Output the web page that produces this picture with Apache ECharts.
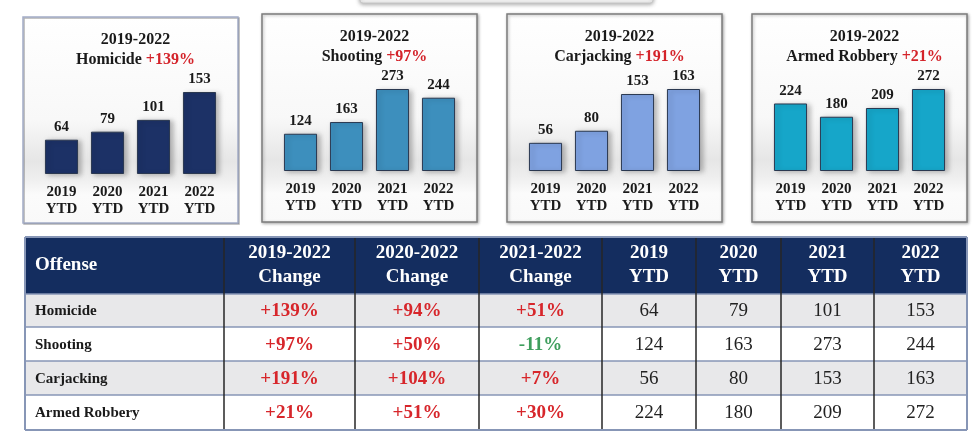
<!DOCTYPE html>
<html lang="en">
<head>
    <meta charset="UTF-8">
    <title>2019-2022 Offense YTD</title>
    <style type="text/css">
        * { margin: 0; padding: 0; }
        html, body { width: 100%; height: 100%; background: #fff; }
        #main { width: 980px; height: 444px; }
    </style>
</head>
<body>
<div id="main"></div>
<script src="https://cdn.jsdelivr.net/npm/echarts@6/dist/echarts.min.js"></script>
<script>
    var myChart = echarts.init(document.getElementById('main'));

    // data
    const years = ['2019', '2020', '2021', '2022'];
    const offenses = ['Homicide', 'Shooting', 'Carjacking', 'Armed Robbery'];
    const homicide = [64, 79, 101, 153];
    const shooting = [124, 163, 273, 244];
    const carjacking = [56, 80, 153, 163];
    const armedRobbery = [224, 180, 209, 272];
    const changeHeaders = ['2019-2022', '2020-2022', '2021-2022'];
    const change19to22 = [139, 97, 191, 21];
    const change20to22 = [94, 50, 104, 51];
    const change21to22 = [51, -11, 7, 30];

    const counts = [homicide, shooting, carjacking, armedRobbery];
    const changes = [change19to22, change20to22, change21to22];

    // layout
    const serif = '"Liberation Serif", "Times New Roman", serif';
    const panels = [
        {x: 23, y: 17, w: 215, h: 206, color: '#1c3166', border: '#a3acc6'},
        {x: 262, y: 14, w: 215, h: 208, color: '#3d8fbd', border: '#7c7c7c'},
        {x: 507, y: 14, w: 215, h: 208, color: '#7fa2e1', border: '#7c7c7c'},
        {x: 752, y: 14, w: 215, h: 208, color: '#16a6c9', border: '#7c7c7c'}
    ];
    const colWidths = [199, 131, 124, 123, 94, 85, 93, 93];
    const rowHeights = [57, 33, 34, 34, 35];
    const table = {left: 25, top: 237};

    function fmtChange(v) {
        return (v > 0 ? '+' : '') + v + '%';
    }
    function sum(arr, n) {
        let s = 0;
        for (let i = 0; i < n; i++) s += arr[i];
        return s;
    }

    var titles = [], grids = [], xAxes = [], yAxes = [], series = [], graphics = [];

    graphics.push({
        type: 'rect', z: 0,
        shape: {x: 360, y: -8, width: 293, height: 11, r: 3},
        style: {fill: '#f2f2f2', stroke: '#c8c8c8', shadowBlur: 4, shadowColor: 'rgba(0,0,0,0.35)', shadowOffsetY: 1}
    });

    var titleFont = {fontFamily: serif, fontSize: 16, fontWeight: 'bold', lineHeight: 20};

    panels.forEach(function (p, i) {
        var cx = p.x + p.w / 2;
        graphics.push({
            type: 'rect', z: 0,
            shape: {x: p.x, y: p.y, width: p.w, height: p.h},
            style: {
                fill: new echarts.graphic.LinearGradient(0, 0, 0, 1, [
                    {offset: 0, color: '#ffffff'},
                    {offset: 0.5, color: '#f8f8f8'},
                    {offset: 0.7, color: '#e6e6e6'},
                    {offset: 0.78, color: '#eeeeee'},
                    {offset: 0.86, color: '#fbfbfb'},
                    {offset: 1, color: '#f9f9f9'}
                ]),
                stroke: p.border,
                lineWidth: 1.5,
                shadowBlur: i === 0 ? 0 : 3,
                shadowColor: 'rgba(0,0,0,0.3)',
                shadowOffsetX: 1,
                shadowOffsetY: 1
            }
        });
        titles.push({
            text: '{n|2019-2022}\n{n|' + offenses[i] + '} {r|' + fmtChange(change19to22[i]) + '}',
            left: cx,
            top: p.y + 8,
            textAlign: 'center',
            textStyle: {
                fontFamily: serif, fontSize: 16, fontWeight: 'bold', color: '#1a1a1a', lineHeight: 20,
                rich: {
                    n: Object.assign({color: '#1a1a1a'}, titleFont),
                    r: Object.assign({color: '#d4232a'}, titleFont)
                }
            }
        });
        grids.push({left: cx - 92, width: 184, top: p.y + 75, height: 82});
        xAxes.push({
            type: 'category', gridIndex: i, data: years,
            axisLine: {show: false}, axisTick: {show: false},
            axisLabel: {
                formatter: function (v) { return v + '\nYTD'; },
                fontFamily: serif, fontSize: 15, fontWeight: 'bold', color: '#1a1a1a',
                lineHeight: 17, margin: 10
            }
        });
        yAxes.push({type: 'value', gridIndex: i, min: 0, max: 'dataMax', show: false});
        series.push({
            type: 'bar', xAxisIndex: i, yAxisIndex: i,
            data: counts[i],
            barCategoryGap: '28%',
            itemStyle: {
                color: p.color, borderColor: '#2a3850', borderWidth: 1,
                shadowBlur: 5, shadowColor: 'rgba(0,0,0,0.25)', shadowOffsetX: 3, shadowOffsetY: 1
            },
            label: {
                show: true, position: 'top', distance: 5,
                fontFamily: serif, fontSize: 15, fontWeight: 'bold', color: '#1a1a1a'
            }
        });
    });

    // table as a custom series on a layout grid
    var tableW = sum(colWidths, colWidths.length), tableH = sum(rowHeights, rowHeights.length);
    grids.push({left: table.left, top: table.top, width: tableW, height: tableH});
    xAxes.push({type: 'value', gridIndex: 4, min: 0, max: tableW, show: false});
    yAxes.push({type: 'value', gridIndex: 4, min: 0, max: tableH, inverse: true, show: false});

    function cellText(c, r) {
        if (r === 0) {
            if (c === 0) return 'Offense';
            if (c <= 3) return changeHeaders[c - 1] + '\nChange';
            return years[c - 4] + '\nYTD';
        }
        var i = r - 1;
        if (c === 0) return offenses[i];
        if (c <= 3) return fmtChange(changes[c - 1][i]);
        return String(counts[i][c - 4]);
    }

    var cells = [];
    for (var r = 0; r < rowHeights.length; r++) {
        for (var c = 0; c < colWidths.length; c++) cells.push([c, r]);
    }

    series.push({
        type: 'custom', xAxisIndex: 4, yAxisIndex: 4, clip: false, silent: true,
        data: cells,
        renderItem: function (params, api) {
            var c = api.value(0), r = api.value(1);
            var p0 = api.coord([sum(colWidths, c), sum(rowHeights, r)]);
            var p1 = api.coord([sum(colWidths, c + 1), sum(rowHeights, r + 1)]);
            var x0 = p0[0], y0 = p0[1], x1 = p1[0], y1 = p1[1];
            var fill = r === 0 ? '#142d5f' : (r % 2 === 1 ? '#e8e8ea' : '#ffffff');
            var children = [{
                type: 'rect', z2: 0,
                shape: {x: x0, y: y0, width: x1 - x0, height: y1 - y0},
                style: {fill: fill}
            }];
            var lineBlue = '#8796b6';
            if (r < rowHeights.length - 1) {
                children.push({type: 'line', z2: 5, shape: {x1: x0, y1: y1, x2: x1, y2: y1},
                    style: {stroke: lineBlue, lineWidth: 1.5}});
            }
            if (c < colWidths.length - 1) {
                children.push({type: 'line', z2: 8, shape: {x1: x1, y1: y0, x2: x1, y2: y1},
                    style: {stroke: '#262626', lineWidth: 1.5}});
            }
            if (c === 0) children.push({type: 'line', z2: 9, shape: {x1: x0, y1: y0, x2: x0, y2: y1}, style: {stroke: lineBlue, lineWidth: 2}});
            if (c === colWidths.length - 1) children.push({type: 'line', z2: 9, shape: {x1: x1, y1: y0, x2: x1, y2: y1}, style: {stroke: lineBlue, lineWidth: 2}});
            if (r === 0) children.push({type: 'line', z2: 9, shape: {x1: x0, y1: y0, x2: x1, y2: y0}, style: {stroke: lineBlue, lineWidth: 2}});
            if (r === rowHeights.length - 1) children.push({type: 'line', z2: 9, shape: {x1: x0, y1: y1, x2: x1, y2: y1}, style: {stroke: lineBlue, lineWidth: 2}});

            var txt = cellText(c, r);
            var st = {
                text: txt,
                x: c === 0 ? x0 + 10 : (x0 + x1) / 2,
                y: (y0 + y1) / 2 + (r === 0 ? 0 : 1),
                textAlign: c === 0 ? 'left' : 'center',
                textVerticalAlign: 'middle',
                fontFamily: serif
            };
            if (r === 0) {
                st.fill = '#ffffff'; st.fontSize = 19; st.fontWeight = 'bold'; st.lineHeight = 24;
            } else if (c === 0) {
                st.fill = '#1a1a1a'; st.fontSize = 15; st.fontWeight = 'bold';
            } else if (c <= 3) {
                st.fill = changes[c - 1][r - 1] < 0 ? '#3f9e5d' : '#d7262b';
                st.fontSize = 19; st.fontWeight = 'bold';
            } else {
                st.fill = '#222222'; st.fontSize = 19; st.fontWeight = 'normal';
            }
            children.push({type: 'text', z2: 20, style: st});
            return {type: 'group', children: children};
        }
    });

    var option = {
        backgroundColor: '#ffffff',
        animation: false,
        title: titles,
        grid: grids,
        xAxis: xAxes,
        yAxis: yAxes,
        graphic: graphics,
        series: series
    };
    myChart.setOption(option);
    window.onresize = () => {
        myChart.resize();
    }
</script>
</body>
</html>
